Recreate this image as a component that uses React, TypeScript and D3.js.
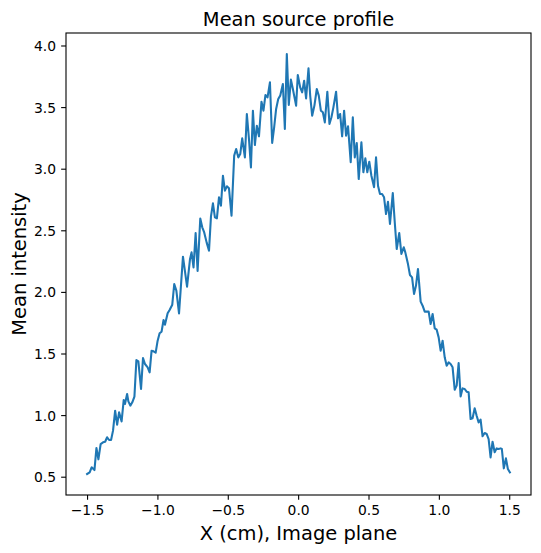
import React from "react";
import * as d3 from "d3";

const xPositions: number[] = [
  -1.503, -1.485, -1.471, -1.451, -1.437, -1.423, -1.407, -1.390, -1.375, -1.361,
  -1.347, -1.333, -1.319, -1.304, -1.290, -1.276, -1.258, -1.243, -1.234, -1.219,
  -1.210, -1.196, -1.182, -1.167, -1.153, -1.139, -1.120, -1.106, -1.092, -1.073,
  -1.059, -1.045, -1.031, -1.016, -1.002, -0.988, -0.974, -0.960, -0.950, -0.931,
  -0.917, -0.898, -0.884, -0.869, -0.850, -0.822, -0.793,
  -0.772, -0.761, -0.747, -0.732, -0.718, -0.699, -0.685, -0.671, -0.654, -0.637,
  -0.623, -0.609, -0.595, -0.581, -0.566, -0.552, -0.538, -0.524, -0.510, -0.495,
  -0.477, -0.458, -0.444, -0.429, -0.415, -0.401, -0.382, -0.368, -0.353, -0.339,
  -0.325, -0.311, -0.297, -0.282, -0.264, -0.250, -0.236, -0.221, -0.204, -0.188,
  -0.174, -0.160, -0.145, -0.131, -0.112, -0.098, -0.084, -0.070, -0.055, -0.041,
  -0.018, -0.006, 0.011, 0.025, 0.039, 0.053, 0.070, 0.082, 0.096, 0.112,
  0.129, 0.143, 0.158, 0.172, 0.186, 0.204, 0.219, 0.233, 0.247, 0.266,
  0.280, 0.295, 0.309, 0.323, 0.337, 0.351, 0.370, 0.385, 0.399, 0.413,
  0.427, 0.446, 0.460, 0.474, 0.488, 0.502, 0.517, 0.536, 0.550, 0.564,
  0.578, 0.593, 0.607, 0.621, 0.635, 0.649, 0.669, 0.683, 0.697, 0.715, 0.730,
  0.747, 0.758, 0.777, 0.791, 0.806, 0.820, 0.834, 0.848, 0.867, 0.881,
  0.896, 0.910, 0.924, 0.938, 0.952, 0.967, 0.981, 0.995, 1.009, 1.023,
  1.038, 1.052, 1.066, 1.080, 1.094, 1.109, 1.123, 1.137, 1.151, 1.165,
  1.180, 1.194, 1.208, 1.222, 1.236, 1.251, 1.265, 1.279, 1.293, 1.307,
  1.322, 1.336, 1.350, 1.364, 1.378, 1.393, 1.407, 1.421, 1.435, 1.444,
  1.458, 1.473, 1.487, 1.501,
];

const meanIntensity: number[] = [
  0.526, 0.539, 0.580, 0.558, 0.737, 0.645, 0.769, 0.783, 0.788, 0.824,
  0.802, 0.802, 0.878, 1.040, 0.926, 1.026, 0.953, 1.127, 1.094, 1.175,
  1.116, 1.081, 1.108, 1.154, 1.451, 1.440, 1.216, 1.467, 1.419, 1.392,
  1.351, 1.527, 1.522, 1.511, 1.608, 1.668, 1.681, 1.776, 1.738, 1.830,
  1.857, 1.900, 2.068, 2.014, 1.830, 2.290, 2.046,
  2.270, 2.325, 2.203, 2.482, 2.174, 2.600, 2.528, 2.487, 2.406, 2.339,
  2.617, 2.723, 2.609, 2.601, 2.772, 2.704, 2.947, 2.826, 2.861, 2.845,
  2.623, 3.110, 3.164, 3.096, 3.123, 3.250, 3.096, 3.448, 3.245, 3.015,
  3.475, 3.196, 3.353, 3.267, 3.548, 3.475, 3.602, 3.583, 3.705, 3.213,
  3.340, 3.489, 3.570, 3.597, 3.691, 3.326, 3.935, 3.521, 3.727, 3.651,
  3.516, 3.765, 3.664, 3.624, 3.718, 3.575, 3.819, 3.597, 3.434, 3.516,
  3.651, 3.597, 3.475, 3.462, 3.380, 3.629, 3.367, 3.421, 3.502, 3.629,
  3.413, 3.448, 3.267, 3.475, 3.272, 3.348, 3.056, 3.421, 3.096, 3.213,
  2.920, 3.218, 2.975, 3.088, 2.975, 3.061, 2.947, 2.853, 3.096, 2.866,
  2.799, 2.799, 2.772, 2.636, 2.736, 2.555, 2.807, 2.569, 2.352, 2.482, 2.312,
  2.366, 2.325, 2.230, 2.141, 2.122, 1.987, 2.055, 2.190, 1.925, 1.892,
  1.844, 1.844, 1.844, 1.743, 1.825, 1.708, 1.697, 1.635, 1.527, 1.608,
  1.473, 1.405, 1.432, 1.419, 1.392, 1.210, 1.243, 1.427, 1.156, 1.221,
  1.216, 1.194, 1.189, 0.972, 0.978, 1.059, 0.999, 0.945, 0.967, 0.832,
  0.859, 0.851, 0.810, 0.661, 0.788, 0.702, 0.734, 0.729, 0.734, 0.729,
  0.572, 0.653, 0.566, 0.539,
];

const xTicks: number[] = [-1.5, -1.0, -0.5, 0.0, 0.5, 1.0, 1.5];
const yTicks: number[] = [0.5, 1.0, 1.5, 2.0, 2.5, 3.0, 3.5, 4.0];

const titleText = "Mean source profile";
const xLabelText = "X (cm), Image plane";
const yLabelText = "Mean intensity";

const W = 541;
const H = 553;
const M = { left: 66, right: 531, top: 33, bottom: 495 };
const FONT = "'DejaVu Sans', sans-serif";

function fmt(v: number): string {
  return v.toFixed(1).replace("-", "\u2212");
}

export default function App() {
  const n = Math.min(xPositions.length, meanIntensity.length);
  const data = d3.range(n).map((i) => ({ x: xPositions[i], y: meanIntensity[i] }));

  const [x0, x1] = d3.extent(data, (d) => d.x) as [number, number];
  const [y0, y1] = d3.extent(data, (d) => d.y) as [number, number];
  const xPad = (x1 - x0) * 0.05;
  const yPad = (y1 - y0) * 0.05;

  const xScale = d3.scaleLinear().domain([x0 - xPad, x1 + xPad]).range([M.left, M.right]);
  const yScale = d3.scaleLinear().domain([y0 - yPad, y1 + yPad]).range([M.bottom, M.top]);

  const line = d3
    .line<{ x: number; y: number }>()
    .x((d) => xScale(d.x))
    .y((d) => yScale(d.y));

  const tickLen = 4.86;
  const cx = (M.left + M.right) / 2;
  const cy = (M.top + M.bottom) / 2;

  return (
    <svg
      width={W}
      height={H}
      style={{ position: "fixed", left: 0, top: 0, background: "#fff" }}
      fontFamily={FONT}
    >
      <rect x={0} y={0} width={W} height={H} fill="#fff" />
      <path
        d={line(data) || ""}
        fill="none"
        stroke="#1f77b4"
        strokeWidth={2.08}
        strokeLinejoin="round"
        strokeLinecap="square"
      />
      <rect
        x={M.left}
        y={M.top}
        width={M.right - M.left}
        height={M.bottom - M.top}
        fill="none"
        stroke="#000"
        strokeWidth={1.1}
      />
      {xTicks.map((t) => (
        <g key={"x" + t}>
          <line
            x1={xScale(t)}
            x2={xScale(t)}
            y1={M.bottom}
            y2={M.bottom + tickLen}
            stroke="#000"
            strokeWidth={1.1}
          />
          <text
            x={xScale(t)}
            y={M.bottom + 20}
            textAnchor="middle"
            style={{ fontSize: "13.89px" }}
            fill="#000"
          >
            {fmt(t)}
          </text>
        </g>
      ))}
      {yTicks.map((t) => (
        <g key={"y" + t}>
          <line
            x1={M.left - tickLen}
            x2={M.left}
            y1={yScale(t)}
            y2={yScale(t)}
            stroke="#000"
            strokeWidth={1.1}
          />
          <text
            x={M.left - 9.9}
            y={yScale(t)}
            dy="0.36em"
            textAnchor="end"
            style={{ fontSize: "13.89px" }}
            fill="#000"
          >
            {fmt(t)}
          </text>
        </g>
      ))}
      <text
        x={cx}
        y={M.top - 7.5}
        textAnchor="middle"
        style={{ fontSize: "19.44px" }}
        fill="#000"
      >
        {titleText}
      </text>
      <text
        x={cx}
        y={540}
        textAnchor="middle"
        style={{ fontSize: "19.44px" }}
        fill="#000"
      >
        {xLabelText}
      </text>
      <text
        transform={`translate(25.5,${cy}) rotate(-90)`}
        textAnchor="middle"
        style={{ fontSize: "19.44px" }}
        fill="#000"
      >
        {yLabelText}
      </text>
    </svg>
  );
}
